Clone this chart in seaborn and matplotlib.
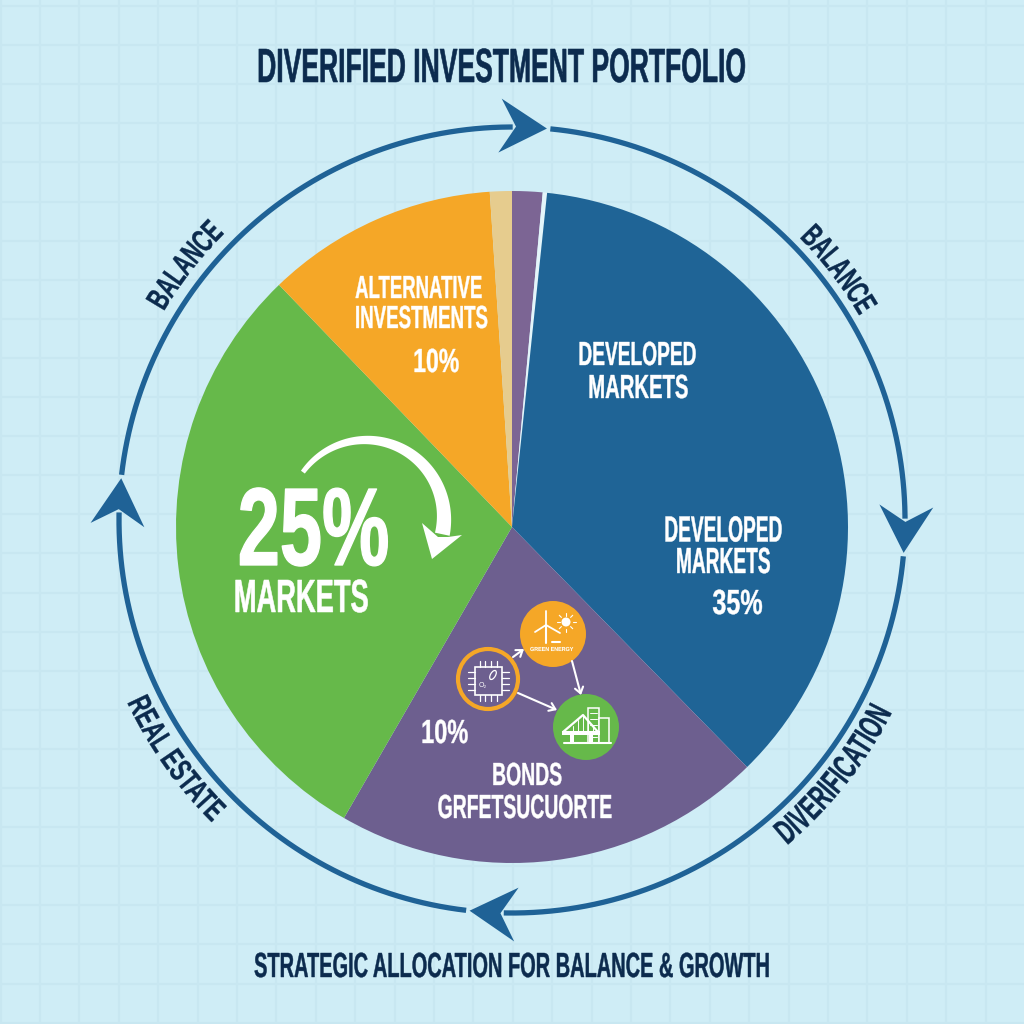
import numpy as np
import matplotlib
matplotlib.use("Agg")
import matplotlib.pyplot as plt
import matplotlib.patheffects as pe
import seaborn as sns
from matplotlib.font_manager import FontProperties
from matplotlib.patches import Circle, Ellipse, Rectangle
from matplotlib.path import Path
from matplotlib.textpath import TextPath

# slice sizes, in degrees, clockwise from 12 o'clock
slice_names = ["sliver", "gap", "Developed", "Bonds", "Emerging", "Alternative", "Other"]
slice_sizes = [5.25, 0.75, 129.6, 74.4, 106.1, 40.1, 3.8]
slice_colors = ["#7c6594", "#e4f5fa", "#1f6496", "#6d5f8f", "#66b94a", "#f5a727", "#e6cc8e"]

arrow_angles = [5.1, 94.8, 186.2, 276.1]

BG = "#cfedf6"
GRID = "#c8e7f1"
RING = "#1f6296"
NAVY = "#0c2b4e"
WHITE = "#ffffff"
ORANGE = "#f5a727"
GREEN = "#66b94a"
DPI = 100

sns.set_theme(style="whitegrid", rc={"grid.color": GRID, "grid.linewidth": 1.5,
                                     "figure.facecolor": BG, "savefig.facecolor": BG})
FONT = ["Liberation Sans Narrow", "Liberation Sans"]
plt.rcParams["font.family"] = FONT


class Squeeze(pe.AbstractPathEffect):
    # narrows the glyphs of a text, and bends them along a circle if radius is given
    def __init__(self, sx, radius=None, stroke=0.0):
        self.sx = sx
        self.radius = radius
        self.stroke = stroke

    def draw_path(self, renderer, gc, tpath, affine, rgbFace=None):
        xy = tpath.vertices.copy()
        box = tpath.get_extents()
        mid = (box.x0 + box.x1) / 2
        xs = (xy[:, 0] - mid) * self.sx
        if self.radius:
            r = self.radius / np.hypot(*affine.get_matrix()[:2, 0])
            t = xs / r
            bent = r + xy[:, 1]
            xy[:, 0] = mid + bent * np.sin(t)
            xy[:, 1] = bent * np.cos(t) - r
        else:
            xy[:, 0] = mid + xs
        gc0 = renderer.new_gc()
        gc0.copy_properties(gc)
        gc0.set_linewidth(self.stroke)
        gc0.set_foreground(rgbFace)
        renderer.draw_path(gc0, Path(xy, tpath.codes), affine, rgbFace)
        gc0.restore()


def text_fit(s, width, cap):
    fp = FontProperties(family=FONT, weight="bold", size=100)
    ink = TextPath((0, 0), s, prop=fp).get_extents().width
    cap_h = TextPath((0, 0), "H", prop=fp).get_extents().height
    size = cap / cap_h * 100 * 72 / DPI
    return size, width / (ink / 100 * size * DPI / 72)


def label(ax, s, x0, x1, y0, y1, color=WHITE):
    size, sx = text_fit(s, x1 - x0, y1 - y0)
    ax.text((x0 + x1) / 2, y1, s, fontsize=size, fontweight="bold", color=color,
            ha="center", va="baseline", zorder=6,
            path_effects=[Squeeze(sx, stroke=size * 0.012)])


def label_block(ax, lines, x0, x1, cap, y_last, spacing):
    # lines kept in one text, x0 and x1 are the ink of the widest line
    widest = max(lines, key=len)
    size, sx = text_fit(widest, x1 - x0, cap)
    ax.text((x0 + x1) / 2, y_last, "\n".join(lines), fontsize=size, fontweight="bold",
            color=WHITE, ha="center", va="baseline", multialignment="center",
            linespacing=spacing, zorder=6,
            path_effects=[Squeeze(sx, stroke=size * 0.012)])


def ring_label(ax, s, angle, r, rotation, length, cap, bend):
    a = np.radians(angle)
    size, sx = text_fit(s, length, cap)
    ax.text(RX + r * np.sin(a), RY - r * np.cos(a), s, fontsize=size, fontweight="bold",
            color=NAVY, rotation=rotation, rotation_mode="anchor", ha="center",
            va="baseline", zorder=6, path_effects=[Squeeze(sx, bend, size * 0.012)])


def polar(cx, cy, r, deg):
    t = np.radians(deg)
    return cx + r * np.sin(t), cy - r * np.cos(t)


def draw_ring(ax):
    n = len(arrow_angles)
    for i, a in enumerate(arrow_angles):
        b = arrow_angles[(i + 1) % n]
        if b < a:
            b += 360
        x, y = polar(RX, RY, RR, np.linspace(a + 0.5, b - 5, 200))
        ax.plot(x, y, color=RING, lw=3.8, solid_capstyle="butt", zorder=3)
        # swept back arrow head, drawn in a frame turned to the tangent
        local = np.array([[0, 0], [-47, 27], [-31, 0], [-47, -27]], dtype=float)
        t = np.radians(a - 1.5)
        ux, uy = np.cos(t), np.sin(t)
        tx, ty = polar(RX, RY, RR, a)
        ax.fill(tx + local[:, 0] * ux - local[:, 1] * uy,
                ty + local[:, 0] * uy + local[:, 1] * ux, color=RING, lw=0, zorder=4)


def draw_swoosh(ax):
    # white tapered arrow on the green slice
    deg = np.linspace(-54, 102, 120)
    half = np.linspace(2.4, 7.5, 120)
    xo, yo = polar(366, 518, 78 + half, deg)
    xi, yi = polar(366, 518, 78 - half, deg)
    ax.fill(np.r_[xo, xi[::-1]], np.r_[yo, yi[::-1]], color=WHITE, lw=0, zorder=5)
    ax.fill([422, 438, 448, 462, 432], [523, 537, 537, 535, 559], color=WHITE, lw=0, zorder=5)


def small_arrow(ax, x0, y0, x1, y1):
    ax.annotate("", xy=(x1, y1), xytext=(x0, y0), zorder=6,
                arrowprops=dict(arrowstyle="->,head_length=0.35,head_width=0.25",
                                color=WHITE, lw=1.5, shrinkA=0, shrinkB=0))


def draw_icons(ax):
    ax.add_patch(Circle((553, 634), 33, color=ORANGE, lw=0, zorder=5))
    ax.add_patch(Circle((586, 727), 33, color=GREEN, lw=0, zorder=5))
    ax.add_patch(Circle((488, 679), 30, fc="none", ec=ORANGE, lw=3, zorder=5))

    small_arrow(ax, 513, 657, 524, 649)
    small_arrow(ax, 572, 661, 581, 695)
    small_arrow(ax, 518, 693, 557, 710)

    # chip
    ax.add_patch(Rectangle((475, 667), 27, 28, fc="none", ec=WHITE, lw=1.2, zorder=6))
    for p in [480, 485, 491, 497]:
        ax.plot([p, p], [661, 667], color=WHITE, lw=0.9, zorder=6)
        ax.plot([p, p], [695, 701], color=WHITE, lw=0.9, zorder=6)
    for p in [672, 678, 684, 690]:
        ax.plot([468, 475], [p, p], color=WHITE, lw=0.9, zorder=6)
        ax.plot([502, 509], [p, p], color=WHITE, lw=0.9, zorder=6)
    ax.add_patch(Ellipse((493, 675), 5, 10, angle=30, fc="none", ec=WHITE, lw=0.9, zorder=6))
    ax.text(483, 686, "O\u2082", color=WHITE, fontsize=5, ha="center", va="center", zorder=6)

    # turbine and sun
    ax.plot([546, 546], [626, 643], color=WHITE, lw=1.5, zorder=6)
    for tip in [(546, 611), (535, 632), (560, 633)]:
        ax.plot([546, tip[0]], [625, tip[1]], color=WHITE, lw=1.3, zorder=6)
    ax.plot([552, 560], [642, 642], color=WHITE, lw=1.5, zorder=6)
    ax.add_patch(Circle((566, 622), 4.5, color=WHITE, lw=0, zorder=6))
    for d in np.arange(0, 360, 45):
        rx, ry = polar(566, 622, np.array([6.5, 9.5]), d)
        ax.plot(rx, ry, color=WHITE, lw=0.8, zorder=6)
    label(ax, "GREEN ENERGY", 530, 573, 647, 651)

    # buildings and bridge
    ax.add_patch(Rectangle((588, 708), 11, 35, fc=GREEN, ec=WHITE, lw=1.1, zorder=6))
    ax.add_patch(Rectangle((599, 718), 10, 25, fc=GREEN, ec=WHITE, lw=1.1, zorder=6))
    for p in [713, 719, 725, 731, 737]:
        ax.plot([590, 597], [p, p], color=WHITE, lw=0.7, zorder=6)
    ax.plot([564, 611], [743, 743], color=WHITE, lw=1.5, zorder=7)
    ax.add_patch(Rectangle((562, 731), 38, 4, fc=WHITE, lw=0, zorder=7))
    ax.plot([563, 583, 598], [732, 715, 732], color=WHITE, lw=1.6, zorder=7)
    for p in [568, 573, 578, 583, 588, 593]:
        ax.plot([p, p], [732, 732 - (17 - abs(p - 583) * 1.05)], color=WHITE, lw=0.7, zorder=7)
    for p in [570, 589]:
        ax.add_patch(Rectangle((p, 735), 4, 8, fc=WHITE, lw=0, zorder=7))


RX, RY, RR = 512, 520, 393

fig = plt.figure(figsize=(1024 / DPI, 1024 / DPI), dpi=DPI)
ax = fig.add_axes([0, 0, 1, 1])

# y axis is flipped below, so counterclock here reads clockwise on the page
ax.pie(slice_sizes, colors=slice_colors, startangle=-90, counterclock=True,
       center=(512, 527), radius=336, wedgeprops=dict(linewidth=0, zorder=2))

ax.set_xlim(0, 1024)
ax.set_ylim(1024, 0)
ax.set_xticks(np.arange(0.6, 1024, 39.4))
ax.set_yticks(np.arange(6, 1024, 39.1))
ax.grid(True)
ax.set_axisbelow(True)
ax.tick_params(length=0, labelbottom=False, labelleft=False)

draw_ring(ax)
draw_swoosh(ax)
draw_icons(ax)

label(ax, "DIVERIFIED INVESTMENT PORTFOLIO", 259, 745, 49, 82, NAVY)
label(ax, "STRATEGIC ALLOCATION FOR BALANCE & GROWTH", 255, 769, 953, 977, NAVY)

label(ax, "ALTERNATIVE", 356, 482, 276, 298)
label(ax, "INVESTMENTS", 356, 487, 306, 328)
label(ax, "10%", 414, 458, 349, 372)
label(ax, "DEVELOPED", 579, 695, 342, 365)
label(ax, "MARKETS", 589, 687, 375, 398)
label_block(ax, ["DEVELOPED", "MARKETS"], 665, 781, 25, 573, 0.87)
label(ax, "35%", 713, 762, 590, 614)
label(ax, "25%", 240, 387, 489, 565)
label(ax, "MARKETS", 235, 367, 580, 612)
label(ax, "10%", 422, 467, 720, 743)
label(ax, "BONDS", 493, 561, 763, 785)
label(ax, "GRFETSUCUORTE", 438, 611, 795, 818)

ring_label(ax, "BALANCE", -52.1, 406, 52.1, 97, 22, 406)
ring_label(ax, "BALANCE", 52.5, 403, -52.5, 97, 22, 403)
ring_label(ax, "DIVERIFICATION", 128.3, 426, 51.7, 168, 24, -426)
ring_label(ax, "REAL ESTATE", 234.7, 426, -54.7, 146, 22, -426)

fig.savefig("out.png", dpi=DPI)
